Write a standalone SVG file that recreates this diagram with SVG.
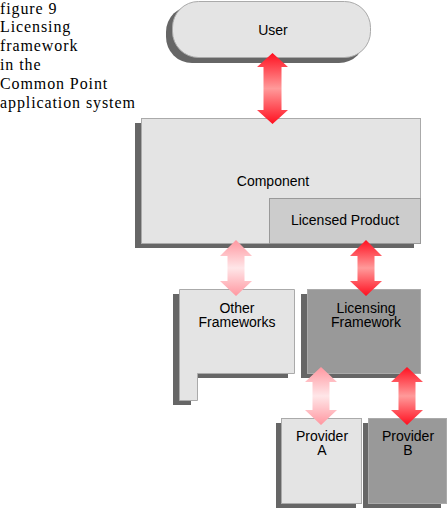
<svg xmlns="http://www.w3.org/2000/svg" width="447" height="508" viewBox="0 0 447 508">
<defs>
<linearGradient id="gRed" x1="0" y1="0" x2="0" y2="1">
<stop offset="0" stop-color="#ff1020"/>
<stop offset="0.5" stop-color="#ff9a9a"/>
<stop offset="1" stop-color="#ff1020"/>
</linearGradient>
<linearGradient id="gPale" x1="0" y1="0" x2="0" y2="1">
<stop offset="0" stop-color="#ff97a0"/>
<stop offset="0.5" stop-color="#ffe6e8"/>
<stop offset="1" stop-color="#ff97a0"/>
</linearGradient>
<style>
.sh{fill:#666666}
.lt{fill:#e4e4e4;stroke:#aaaaaa;stroke-width:1}
.dk{fill:#999999;stroke:#aaaaaa;stroke-width:1}
.md{fill:#cccccc;stroke:#999999;stroke-width:1}
.t{font-family:"Liberation Sans",Arial,sans-serif;font-size:14px;fill:#000;text-anchor:middle}
.cap{font-family:"Liberation Serif","Times New Roman",serif;font-size:16px;letter-spacing:0.9px;fill:#000}
.red{fill:url(#gRed)}
.pale{fill:url(#gPale)}
</style>
</defs>
<g id="caption">
<text class="cap" x="0" y="14">figure 9</text>
<text class="cap" x="0" y="32">Licensing</text>
<text class="cap" x="0" y="51">framework</text>
<text class="cap" x="0" y="70">in the</text>
<text class="cap" x="0" y="89">Common Point</text>
<text class="cap" x="0" y="108">application system</text>
</g>
<g id="user">
<rect class="sh" x="166" y="6" width="199" height="57" rx="26"/>
<rect class="lt" x="172.5" y="1.5" width="198" height="56" rx="26"/>
<text class="t" x="273" y="35">User</text>
</g>
<g id="component">
<rect class="sh" x="135" y="123" width="279" height="125"/>
<rect class="lt" x="141.5" y="118.5" width="279" height="125"/>
<text class="t" x="273" y="186">Component</text>
</g>
<g id="licensed-product">
<rect class="md" x="269.5" y="198.5" width="151" height="45"/>
<text class="t" x="345" y="225">Licensed Product</text>
</g>
<g id="other-frameworks">
<path class="sh" d="M173,294 H288 V378 H191 V405 H173 Z"/>
<path class="lt" d="M179.5,289.5 H294.5 V373.5 H197.5 V400.5 H179.5 Z"/>
<text class="t" x="237" y="312.5">Other</text>
<text class="t" x="237" y="327">Frameworks</text>
</g>
<g id="licensing-framework">
<rect class="sh" x="301" y="294" width="113" height="84"/>
<rect class="dk" x="307.5" y="289.5" width="113" height="84"/>
<text class="t" x="366" y="312.5">Licensing</text>
<text class="t" x="366" y="327">Framework</text>
</g>
<g id="provider-a">
<rect class="sh" x="276" y="423" width="80" height="85"/>
<rect class="lt" x="281.5" y="418.5" width="80" height="85"/>
<text class="t" x="322" y="440.5">Provider</text>
<text class="t" x="322" y="455">A</text>
</g>
<g id="provider-b">
<rect class="sh" x="363" y="423" width="78" height="85"/>
<rect class="dk" x="368.5" y="418.5" width="78" height="85"/>
<text class="t" x="408" y="440.5">Provider</text>
<text class="t" x="408" y="455">B</text>
</g>
<g id="connectors">
<path class="red" d="M272.5,53 L288,67 L281.5,67 L281.5,110 L288,110 L272.5,124 L257,110 L263.5,110 L263.5,67 L257,67 Z"/>
<path class="pale" d="M236,240 L252,256 L244.5,256 L244.5,281 L252,281 L236,296 L220,281 L227.5,281 L227.5,256 L220,256 Z"/>
<path class="red" d="M366,240 L382,256 L374.5,256 L374.5,281 L382,281 L366,296 L350,281 L357.5,281 L357.5,256 L350,256 Z"/>
<path class="pale" d="M321,367 L337,382 L329.5,382 L329.5,410 L337,410 L321,425 L305,410 L312.5,410 L312.5,382 L305,382 Z"/>
<path class="red" d="M407,367 L423,382 L415.5,382 L415.5,410 L423,410 L407,425 L391,410 L398.5,410 L398.5,382 L391,382 Z"/>
</g>
</svg>
